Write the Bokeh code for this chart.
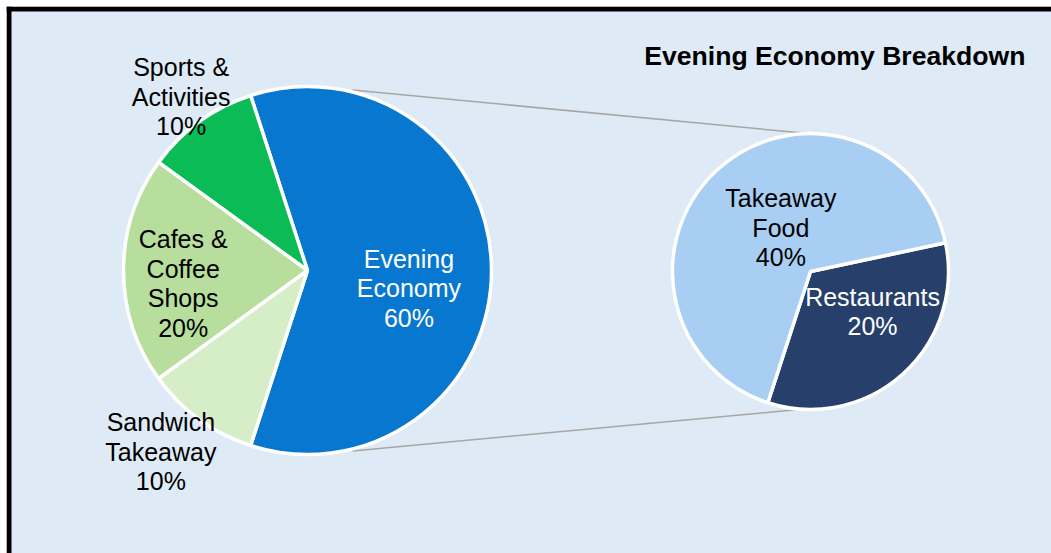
import math
from bokeh.plotting import figure
from bokeh.models import Range1d, Span, ColumnDataSource
from bokeh.core.properties import value
from bokeh.embed import file_html
from bokeh.resources import INLINE

# ---- data ----
main_categories = ["Evening\nEconomy", "Sports &\nActivities", "Cafes &\nCoffee\nShops", "Sandwich\nTakeaway"]
main_values = [60, 10, 20, 10]
main_colors = ["#0877CF", "#0BBB55", "#B7DE9D", "#D5EEC7"]
main_text_colors = ["white", "black", "black", "black"]

sub_categories = ["Restaurants", "Takeaway\nFood"]
sub_values = [20, 40]
sub_colors = ["#273F6B", "#A9CEF3"]
sub_text_colors = ["white", "black"]

title_text = "Evening Economy Breakdown"

# ---- layout ----
W, H = 1051, 553
M = 6
BG = "#DEEAF6"
FONT = "Liberation Sans"

p = figure(width=W, height=H, output_backend="svg", toolbar_location=None,
           x_range=Range1d(M, W), y_range=Range1d(0, H - M),
           min_border_left=M, min_border_top=M, min_border_right=0, min_border_bottom=0)
p.axis.visible = False
p.grid.visible = False
p.background_fill_color = BG
p.border_fill_color = "white"
p.outline_line_color = None

cx1, cy1, r1 = 307, 283, 184
cx2, cy2, r2 = 810, 282, 138

total = sum(main_values)
start0 = -math.pi * main_values[0] / total


def wedges(vals, start):
    s = sum(vals)
    starts, ends = [], []
    a = start
    for v in vals:
        starts.append(a)
        a += 2 * math.pi * v / s
        ends.append(a)
    return starts, ends


ms, me = wedges(main_values, start0)
src1 = ColumnDataSource(dict(start=ms, end=me, color=main_colors))
p.wedge(x=cx1, y=cy1, radius=r1, start_angle="start", end_angle="end",
        fill_color="color", line_color="white", line_width=3.5, source=src1)

ss, se = wedges(sub_values, start0)
src2 = ColumnDataSource(dict(start=ss, end=se, color=sub_colors))
p.wedge(x=cx2, y=cy2, radius=r2, start_angle="start", end_angle="end",
        fill_color="color", line_color="white", line_width=3.5, source=src2)

# connector lines
a_left = math.radians(76)
a_rt, a_rb = math.radians(94), math.radians(-96)
p.segment(x0=[cx1 + (r1 + 2) * math.cos(a_left), cx1 + (r1 + 2) * math.cos(-a_left)],
          y0=[cy1 + (r1 + 2) * math.sin(a_left), cy1 + (r1 + 2) * math.sin(-a_left)],
          x1=[cx2 + (r2 + 1) * math.cos(a_rt), cx2 + (r2 + 1) * math.cos(a_rb)],
          y1=[cy2 + (r2 + 1) * math.sin(a_rt), cy2 + (r2 + 1) * math.sin(a_rb)],
          line_color="#A6A6A6", line_width=1.5, level="underlay")

# labels
LH = 1.05
main_lab_r = [103, 215, 125, 233]
main_lab_ang = [-10, 126, 186, 231]
lx = [cx1 + r * math.cos(math.radians(a)) for r, a in zip(main_lab_r, main_lab_ang)]
ly = [cy1 + r * math.sin(math.radians(a)) for r, a in zip(main_lab_r, main_lab_ang)]
labels1 = [f"{c}\n{v}%" for c, v in zip(main_categories, main_values)]
p.text(x=lx, y=ly, text=labels1, text_color=main_text_colors, text_align="center",
       text_baseline="middle", text_font=value(FONT), text_font_size="25px",
       text_line_height=LH)

sub_lab_r = [74, 53]
sub_lab_ang = [-33, 124]
sx = [cx2 + r * math.cos(math.radians(a)) for r, a in zip(sub_lab_r, sub_lab_ang)]
sy = [cy2 + r * math.sin(math.radians(a)) for r, a in zip(sub_lab_r, sub_lab_ang)]
labels2 = [f"{c}\n{v}%" for c, v in zip(sub_categories, sub_values)]
p.text(x=sx, y=sy, text=labels2, text_color=sub_text_colors, text_align="center",
       text_baseline="middle", text_font=value(FONT), text_font_size="25px",
       text_line_height=LH)

# title
p.text(x=[1025], y=[H - 55], text=[title_text], text_color="black", text_align="right",
       text_baseline="middle", text_font=value(FONT), text_font_size="26.6px",
       text_font_style="bold")

# border (top & left visible in reference)
p.add_layout(Span(location=8.5, dimension="height", line_color="black", line_width=5))
p.add_layout(Span(location=H - 8.5, dimension="width", line_color="black", line_width=5))

open("out.html", "w").write(file_html(p, INLINE))
